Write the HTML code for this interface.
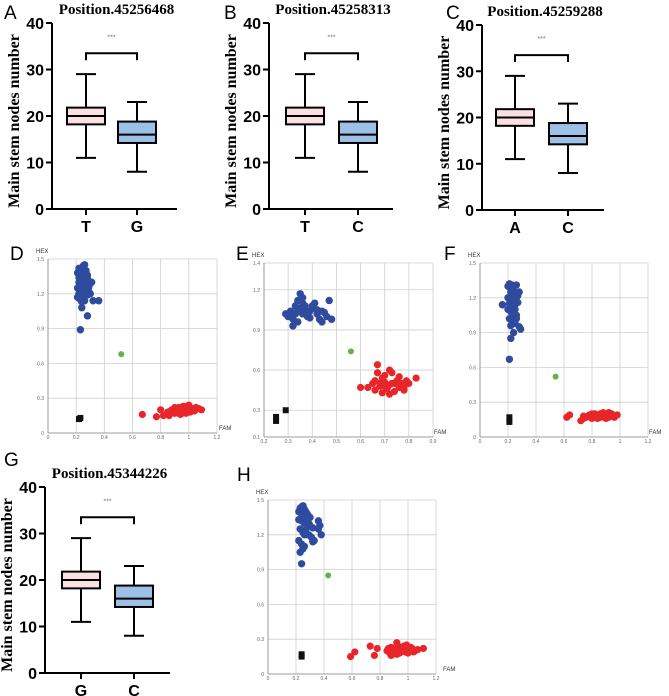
<!DOCTYPE html>
<html><head><meta charset="utf-8"><style>
body{margin:0;background:#fff;width:669px;height:696px;overflow:hidden}
svg{display:block}
.tick{font:bold 16px "Liberation Sans",sans-serif;fill:#000}
.ttl{font:bold 15px "Liberation Serif",serif;fill:#000}
.yl{font:bold 16px "Liberation Serif",serif;fill:#000}
.let{font:19px "Liberation Sans",sans-serif;fill:#000}
.sm{font:5px "Liberation Sans",sans-serif;fill:#666}
.st{font:7px "Liberation Sans",sans-serif;fill:#777}
.ax{font:6px "Liberation Sans",sans-serif;fill:#333}
</style></head><body>
<svg id="fig" width="669" height="696" viewBox="0 0 669 696" xmlns="http://www.w3.org/2000/svg"></svg>
<script>
// Box plot data (min, q1, median, q3, max)
const boxStatsHigh = [11, 18.2, 20, 21.8, 29];
const boxStatsLow = [8, 14.2, 16, 18.8, 23];
const yTicks = [0, 10, 20, 30, 40];
// Scatter tick labels
const ticks0to12 = [0, 0.2, 0.4, 0.6, 0.8, 1, 1.2];
const ticks0to15 = [0, 0.3, 0.6, 0.9, 1.2, 1.5];
const ticksE_x = [0.2, 0.3, 0.4, 0.5, 0.6, 0.7, 0.8, 0.9];
const ticksE_y = [0.1, 0.3, 0.6, 0.9, 1.2, 1.4];
// Scatter data per panel
const dBlueX=[0.21,0.22,0.23,0.24,0.25,0.26,0.27,0.28,0.22,0.24,0.26,0.28,0.3,0.21,0.23,0.25,0.27,0.29,0.31,0.22,0.24,0.26,0.28,0.23,0.25,0.27,0.24,0.26,0.32,0.36,0.28,0.24,0.23,0.3,0.21,0.25,0.22,0.24,0.26,0.28,0.23,0.25,0.27,0.29];
const dBlueY=[1.38,1.42,1.4,1.35,1.44,1.45,1.4,1.36,1.3,1.32,1.33,1.3,1.29,1.25,1.27,1.24,1.26,1.22,1.3,1.2,1.18,1.2,1.19,1.15,1.16,1.2,1.13,1.14,1.14,1.14,1.01,1.08,0.89,1.2,1.17,1.36,1.34,1.38,1.28,1.33,1.22,1.28,1.35,1.26];
const dRedX=[0.67,0.77,0.8,0.82,0.85,0.87,0.88,0.9,0.91,0.92,0.93,0.94,0.95,0.96,0.97,0.98,0.99,1.0,1.01,1.02,1.03,1.05,1.07,1.09,0.9,0.94,0.98,1.0,0.86,0.92,0.96,0.89,0.93,0.97,1.04,0.95];
const dRedY=[0.16,0.14,0.2,0.15,0.18,0.19,0.2,0.17,0.21,0.19,0.22,0.2,0.17,0.21,0.19,0.23,0.2,0.22,0.18,0.21,0.2,0.22,0.21,0.2,0.22,0.16,0.17,0.24,0.15,0.2,0.23,0.18,0.17,0.2,0.19,0.19];
const eBlueX=[0.29,0.3,0.31,0.32,0.33,0.34,0.35,0.36,0.37,0.38,0.39,0.4,0.41,0.42,0.43,0.44,0.45,0.46,0.47,0.48,0.32,0.34,0.36,0.38,0.35,0.37,0.33,0.4,0.44,0.31,0.34,0.36,0.39,0.42];
const eBlueY=[1.02,1.0,1.04,0.98,1.08,1.12,1.17,1.1,1.05,1.02,0.99,1.06,1.1,1.02,0.98,1.04,1.03,1.0,1.12,0.98,0.93,0.96,1.14,1.0,1.06,1.08,1.02,1.08,0.96,1.0,1.04,1.02,1.04,1.05];
const eRedX=[0.6,0.63,0.65,0.66,0.67,0.68,0.69,0.7,0.71,0.72,0.73,0.74,0.75,0.76,0.77,0.78,0.79,0.8,0.83,0.67,0.7,0.72,0.74,0.76,0.69,0.71,0.66,0.73,0.78,0.68,0.7,0.72,0.75];
const eRedY=[0.47,0.47,0.5,0.45,0.58,0.5,0.54,0.48,0.46,0.6,0.5,0.44,0.52,0.47,0.5,0.45,0.52,0.5,0.54,0.64,0.56,0.42,0.5,0.55,0.43,0.48,0.52,0.58,0.47,0.48,0.51,0.49,0.5];
const fBlueX=[0.2,0.21,0.22,0.23,0.24,0.25,0.26,0.27,0.2,0.22,0.24,0.26,0.28,0.21,0.23,0.25,0.27,0.2,0.22,0.24,0.26,0.21,0.23,0.25,0.22,0.24,0.16,0.29,0.28,0.21,0.22,0.26,0.23,0.25,0.22];
const fBlueY=[1.3,1.32,1.28,1.31,1.26,1.24,1.31,1.22,1.2,1.22,1.18,1.2,1.25,1.15,1.12,1.14,1.16,1.1,1.08,1.06,1.05,1.02,1.0,0.98,0.96,0.9,1.14,0.93,0.95,0.67,0.85,1.02,1.18,1.1,1.25];
const fRedX=[0.62,0.64,0.72,0.74,0.76,0.78,0.8,0.82,0.84,0.86,0.88,0.9,0.92,0.94,0.96,0.98,0.8,0.84,0.88,0.92,0.86,0.9,0.74,0.96,0.82,0.87,0.93];
const fRedY=[0.17,0.19,0.14,0.18,0.17,0.19,0.16,0.2,0.18,0.17,0.21,0.19,0.17,0.2,0.18,0.19,0.2,0.16,0.18,0.21,0.2,0.16,0.16,0.17,0.18,0.19,0.18];
const hBlueX=[0.22,0.23,0.24,0.25,0.26,0.27,0.28,0.29,0.3,0.22,0.24,0.26,0.28,0.3,0.32,0.23,0.25,0.27,0.29,0.31,0.33,0.22,0.24,0.26,0.28,0.36,0.37,0.38,0.36,0.32,0.24,0.23,0.25,0.27,0.29,0.24,0.26];
const hBlueY=[1.4,1.43,1.44,1.45,1.42,1.4,1.38,1.36,1.35,1.33,1.32,1.3,1.3,1.28,1.26,1.25,1.22,1.24,1.2,1.18,1.15,1.15,1.12,1.1,1.2,1.32,1.28,1.2,1.25,1.14,0.95,1.05,1.08,1.34,1.3,1.38,1.2];
const hRedX=[0.59,0.62,0.73,0.78,0.76,0.85,0.87,0.88,0.9,0.91,0.92,0.93,0.94,0.95,0.96,0.97,0.98,0.99,1.0,1.01,1.02,1.03,1.05,1.07,1.11,0.88,0.92,0.96,1.0,0.86,0.93,0.9,0.98,1.04];
const hRedY=[0.15,0.19,0.24,0.22,0.16,0.2,0.18,0.23,0.2,0.19,0.27,0.21,0.18,0.22,0.2,0.24,0.19,0.25,0.21,0.2,0.23,0.22,0.2,0.21,0.22,0.16,0.17,0.2,0.18,0.22,0.24,0.21,0.22,0.19];

const NS='http://www.w3.org/2000/svg';
const svg=document.getElementById('fig');
function mk(tag,attrs,parent,text){const e=document.createElementNS(NS,tag);for(const k in attrs)e.setAttribute(k,attrs[k]);if(text!==undefined)e.textContent=text;(parent||svg).appendChild(e);return e;}

function boxPanel(id,ax,top,bot,c1,c2,end,labels,title,letter,lx,ly){
  const g=mk('g',{});
  
  
  const y=v=>bot-(v/40)*(bot-top);
  const t=mk('text',{x:(ax+end)/2+2,y:top-9,'text-anchor':'middle',class:'ttl'},g,title);
  
  
  const L=mk('text',{x:lx,y:ly,class:'let'},g,letter);
  
  
  const yl=mk('text',{x:0,y:0,transform:`translate(${ax-33},${(top+bot)/2+5}) rotate(-90)`,'text-anchor':'middle',class:'yl'},g,'Main stem nodes number');
  
  
  mk('line',{x1:ax,y1:top,x2:ax,y2:bot+1,stroke:'#000','stroke-width':2},g);
  mk('line',{x1:ax-1,y1:bot,x2:end,y2:bot,stroke:'#000','stroke-width':2},g);
  yTicks.forEach(v=>{mk('line',{x1:ax-6,y1:y(v),x2:ax,y2:y(v),stroke:'#000','stroke-width':2},g);
    const tx=mk('text',{x:ax-8,y:y(v)+6,'text-anchor':'end',class:'tick'},g,String(v));
    
    });
  const stats=[boxStatsHigh,boxStatsLow],fills=['#fbe0e2','#9cc0e6'],cs=[c1,c2];
  cs.forEach((c,i)=>{const s=stats[i];
    mk('line',{x1:c,y1:bot,x2:c,y2:bot+6,stroke:'#000','stroke-width':2},g);
    const xl=mk('text',{x:c,y:bot+23,'text-anchor':'middle',class:'tick'},g,labels[i]);
    
    
    mk('line',{x1:c,y1:y(s[0]),x2:c,y2:y(s[4]),stroke:'#000','stroke-width':2},g);
    mk('line',{x1:c-10,y1:y(s[0]),x2:c+10,y2:y(s[0]),stroke:'#000','stroke-width':2},g);
    mk('line',{x1:c-10,y1:y(s[4]),x2:c+10,y2:y(s[4]),stroke:'#000','stroke-width':2},g);
    const b=mk('rect',{x:c-19,y:y(s[3]),width:38,height:y(s[1])-y(s[3]),fill:fills[i],stroke:'#000','stroke-width':2},g);
    
    
    mk('line',{x1:c-19,y1:y(s[2]),x2:c+19,y2:y(s[2]),stroke:'#000','stroke-width':2},g);
  });
  const br=mk('path',{d:`M${c1},${y(32)}V${y(33.5)}H${c2}V${y(32)}`,fill:'none',stroke:'#000','stroke-width':2},g);
  
  
  mk('text',{x:(c1+c2)/2,y:y(36.5),'text-anchor':'middle',class:'st'},g,'***');
}
boxPanel('a',52,23,209,86,137,177,['T','G'],'Position.45256468','A',4,19);
boxPanel('b',269,23,209,305,358,393,['T','C'],'Position.45258313','B',224,19);
boxPanel('c',482,25,210,515,568,604,['A','C'],'Position.45259288','C',446,19);
boxPanel('g',45,487,673,81,134,170,['G','C'],'Position.45344226','G',4,466);

function scatter(id,x0,x1,xmin,xmax,xt,y0,y1,ymin,ymax,yt,bx,by,rx,ry,green,blk,letter,lx,ly,famX){
  const g=mk('g',{});
  
  
  const X=v=>x0+(v-xmin)/(xmax-xmin)*(x1-x0), Y=v=>y0-(v-ymin)/(ymax-ymin)*(y0-y1);
  xt.forEach(v=>{mk('line',{x1:X(v),y1:y1,x2:X(v),y2:y0,stroke:'#cfcfcf','stroke-width':0.8},g);
    mk('text',{x:X(v),y:y0+6,'text-anchor':'middle',class:'sm'},g,String(v));});
  yt.forEach(v=>{mk('line',{x1:x0,y1:Y(v),x2:x1,y2:Y(v),stroke:'#cfcfcf','stroke-width':0.8},g);
    mk('text',{x:x0-4,y:Y(v)+2,'text-anchor':'end',class:'sm'},g,String(v));});
  mk('line',{x1:x0,y1:y1,x2:x0,y2:y0,stroke:'#888','stroke-width':0.8},g);
  mk('line',{x1:x0,y1:y0,x2:x1,y2:y0,stroke:'#888','stroke-width':0.8},g);
  mk('text',{x:x0-12,y:y1-6,class:'ax'},g,'HEX');
  mk('text',{x:famX,y:y0-3,class:'ax'},g,'FAM');
  const L=mk('text',{x:lx,y:ly,class:'let'},g,letter);
  
  
  bx.forEach((v,i)=>{const c=mk('circle',{cx:X(v),cy:Y(by[i]),r:3.7,fill:'#2f4b9e'},g);
    
    });
  rx.forEach((v,i)=>{const c=mk('circle',{cx:X(v),cy:Y(ry[i]),r:3.6,fill:'#e8262a'},g);
    
    });
  const gr=mk('circle',{cx:X(green[0]),cy:Y(green[1]),r:3,fill:'#62b34b'},g);
  
  
  blk.forEach(p=>{const s=mk('rect',{x:X(p[0])-3,y:Y(p[1])-3,width:6,height:6,fill:'#111'},g);
    
    });
}
scatter('d',48,217,0,1.2,ticks0to12,433,259,0,1.5,ticks0to15,dBlueX,dBlueY,dRedX,dRedY,[0.52,0.68],[[0.22,0.12],[0.23,0.13]],'D',10,260,219);
scatter('e',264,433,0.2,0.9,ticksE_x,437,263,0.1,1.4,ticksE_y,eBlueX,eBlueY,eRedX,eRedY,[0.56,0.74],[[0.25,0.22],[0.25,0.25],[0.29,0.3]],'E',236,260,434);
scatter('f',480,648,0,1.2,ticks0to12,437,263,0,1.5,ticks0to15,fBlueX,fBlueY,fRedX,fRedY,[0.54,0.52],[[0.21,0.13],[0.21,0.17]],'F',444,260,649);
scatter('h',268,436,0,1.2,ticks0to12,674,500,0,1.5,ticks0to15,hBlueX,hBlueY,hRedX,hRedY,[0.43,0.85],[[0.24,0.15],[0.24,0.17]],'H',237,481,443);
</script>
</body></html>
